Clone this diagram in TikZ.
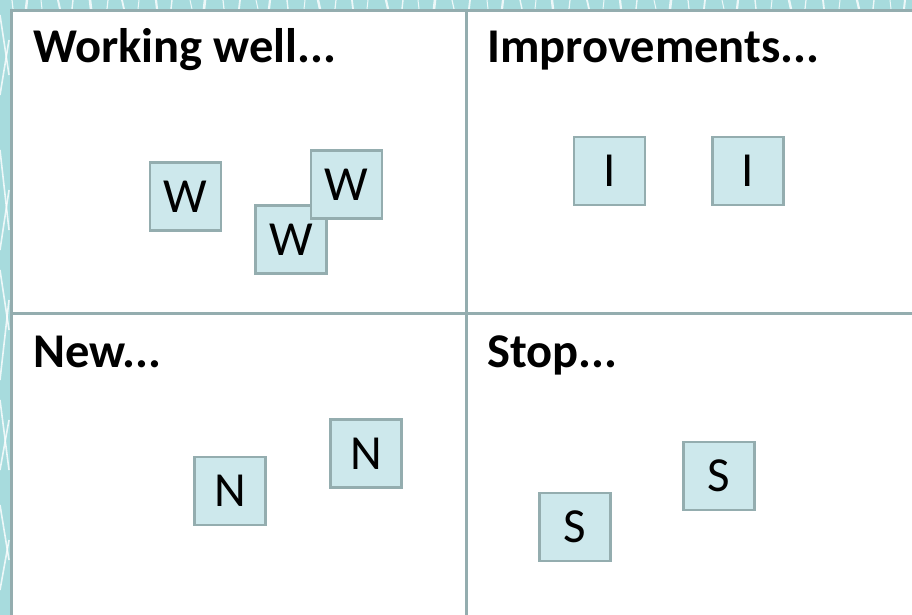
\documentclass[tikz,border=0pt]{standalone}
\usepackage{fontspec}
\setmainfont{Carlito}
\usetikzlibrary{positioning}

\definecolor{boardteal}{HTML}{A7DBDD}
\definecolor{framegrey}{HTML}{94ADAF}
\definecolor{notefill}{HTML}{CDE8EC}

\begin{document}
\begin{tikzpicture}[
    x=1pt,
    y=-1pt,
    streak/.style={
        draw=white,
        line width=1.6pt,
        opacity=0.8
    },
    quad/.style={
        draw=framegrey,
        fill=white,
        rectangle,
        line width=3pt,
        inner sep=0pt,
        anchor=north west
    },
    heading/.style={
        font=\fontsize{48.5}{58}\selectfont\bfseries,
        anchor=base west,
        inner sep=0pt
    },
    note/.style={
        draw=framegrey,
        fill=notefill,
        rectangle,
        line width=2.5pt,
        inner sep=0pt,
        minimum width=71pt,
        minimum height=68pt,
        font=\fontsize{49}{58}\selectfont
    }
]

\useasboundingbox (0,0) rectangle (912,615);
\clip (0,0) rectangle (912,615);

% board background
\fill[boardteal] (0,0) rectangle (912,615);
\foreach \sx/\ex/\w in {12/13/1.2, 27/26/2.4, 41/42/1, 58/60/2, 73/72/1.4, 90/91/2.6,
    108/107/1.2, 122/124/1.8, 139/138/1, 156/157/2.2, 172/171/1.4, 190/192/1,
    205/204/2.6, 223/224/1.2, 240/239/1.8, 256/258/1, 270/269/2.2, 287/288/1.4,
    305/304/1, 318/320/2.4, 336/335/1.2, 352/353/1.8, 368/367/1, 386/388/2.2,
    403/402/1.4, 418/419/1, 435/434/2.6, 452/454/1.2, 470/469/1.8, 487/488/1,
    503/502/2.2, 520/522/1.4, 536/535/1, 552/553/2.4, 570/569/1.2, 587/589/1.8,
    604/603/1, 620/621/2.2, 637/636/1.4, 654/656/1, 671/670/2.6, 688/689/1.2,
    705/704/1.8, 722/724/1, 738/737/2.2, 755/756/1.4, 772/771/1, 789/791/2.4,
    806/805/1.2, 823/824/1.8, 840/839/1, 857/859/2.2, 874/873/1.4, 890/891/1, 905/904/2}
    \draw[streak, line width=\w pt] (\sx,0) -- (\ex,9);
\foreach \sy/\ey in {15/75, 95/40, 150/230, 250/190, 270/330, 380/300, 400/470,
    470/420, 505/560, 590/540}
    \draw[streak] (0,\sy) -- (9,\ey);

% quadrants
\node[quad, minimum width=455pt, minimum height=302.5pt] (well) at (9.5,9.5) {};
\node[quad, minimum width=455pt, minimum height=302.5pt] (improve) at (464.5,9.5) {};
\node[quad, minimum width=455pt, minimum height=310pt] (new) at (9.5,312) {};
\node[quad, minimum width=455pt, minimum height=310pt] (stop) at (464.5,312) {};

\node[heading] (wellhead) at (33,63) {Working well...};
\node[heading] (improvehead) at (487,63) {Improvements...};
\node[heading] (newhead) at (33,367) {New...};
\node[heading] (stophead) at (487,367) {Stop...};

% sticky notes
\node[note] (w1) at (185.5,196.5) {W};
\node[note] (w2) at (291,239.5) {W};
\node[note] (w3) at (346.5,184.5) {W};
\node[note] (i1) at (609.5,171) {I};
\node[note] (i2) at (748,171) {I};
\node[note] (n1) at (230,491) {N};
\node[note] (n2) at (366,453.5) {N};
\node[note] (s1) at (575,527) {S};
\node[note] (s2) at (719,476) {S};

\end{tikzpicture}
\end{document}
